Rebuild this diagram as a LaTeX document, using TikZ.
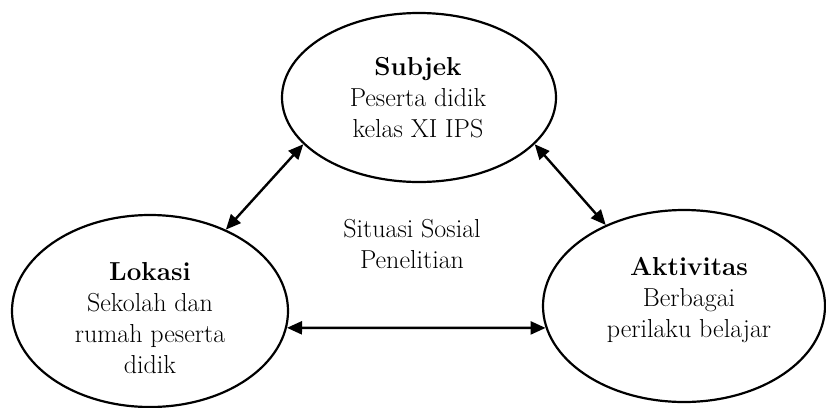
\documentclass[tikz,border=0pt]{standalone}
\usepackage{tikz}
\usetikzlibrary{arrows.meta,shapes.geometric}

\begin{document}
\begin{tikzpicture}[>={Triangle[length=15pt,width=13pt]},x=1pt,y=-1pt,
    bubble/.style={ellipse,draw,line width=2.2pt,inner sep=0pt},
    txt/.style={align=center,font=\fontsize{26}{31}\selectfont},
    link/.style={<->,line width=2.4pt}]
  \useasboundingbox (0,0) rectangle (826,407);
  \node[bubble,minimum width=274pt,minimum height=169pt] (subjek) at (419,97.5) {};
  \node[bubble,minimum width=276pt,minimum height=192pt] (lokasi) at (150,311) {};
  \node[bubble,minimum width=282pt,minimum height=192pt] (aktivitas) at (684,306) {};
  \node[txt] (subjekteks) at (418,98) {\textbf{Subjek}\\Peserta didik\\kelas XI IPS};
  \node[txt] (lokasiteks) at (150,318) {\textbf{Lokasi}\\Sekolah dan\\rumah peserta\\didik};
  \node[txt] (aktivitasteks) at (689,300) {\textbf{Aktivitas}\\Berbagai\\perilaku belajar};
  \node[txt] (situasi) at (412,244) {Situasi Sosial\\Penelitian};
  % hubungan antar unsur
  \draw[link] (subjek.202) -- (lokasi.47);
  \draw[link] (subjek.338) -- (aktivitas.134);
  \draw[link] (lokasi.-7) -- (aktivitas.189);
\end{tikzpicture}
\end{document}
